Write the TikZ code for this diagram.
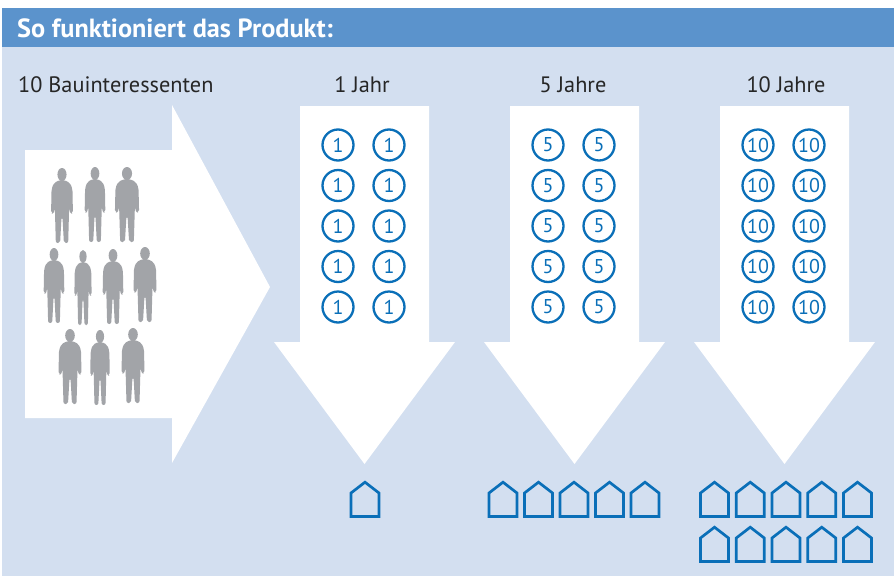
\documentclass[tikz,border=0pt]{standalone}
\usepackage{fontspec}
\setmainfont{PT Sans}
\definecolor{hdrblue}{HTML}{5B93CC}
\definecolor{bgblue}{HTML}{D3DFF0}
\definecolor{iconblue}{HTML}{0A6FB8}
\definecolor{persongray}{HTML}{A2A4A8}
\tikzset{
  numc/.style={circle, draw=iconblue, line width=2.3pt, minimum size=31pt, inner sep=0pt,
    text=iconblue, font=\fontsize{20}{20}\selectfont},
  lbl/.style={anchor=base, inner sep=0pt, text=black!85, font=\fontsize{22.3}{22}\selectfont},
  house/.pic={\draw[iconblue, line width=2.7pt, miter limit=10] (0,1.2) -- (-14,12) -- (-14,35.5) -- (14,35.5) -- (14,12) -- cycle;},
  person/.pic={
    \fill[persongray] (0,6.5) ellipse (4.8 and 6.5);
    \fill[persongray, rounded corners=2] (-2.5,12) -- (-8.5,15) -- (-11,21) -- (-11.5,45) -- (-9,46) -- (-7.5,40) -- (-6.5,75) -- (-2,75) -- (-0.5,49) -- (0.5,49) -- (2,75) -- (6.5,75) -- (7.5,40) -- (9,46) -- (11.5,45) -- (11,21) -- (8.5,15) -- (2.5,12) -- cycle;
  }
}
\begin{document}
\begin{tikzpicture}[x=1pt,y=-1pt]
\useasboundingbox (0,0) rectangle (894,576);
\fill[white] (0,0) rectangle (894,576);
\fill[bgblue] (2,47) rectangle (894,576);
\fill[hdrblue] (2,8) rectangle (894,47);
\node[anchor=base west, inner sep=0pt, text=white, font=\bfseries\fontsize{26.3}{26}\selectfont] (title) at (17,37) {So funktioniert das Produkt:};
% labels
\node[lbl, anchor=base west] (lbau) at (18,92) {10 Bauinteressenten};
\node[lbl] (l1) at (362,92) {1 Jahr};
\node[lbl] (l5) at (573,92) {5 Jahre};
\node[lbl] (l10) at (786,92) {10 Jahre};
% right arrow
\fill[white] (25,150) -- (172,150) -- (172,105) -- (270,287) -- (172,463) -- (172,418) -- (25,418) -- cycle;
% people
\pic[xscale=0.95] at (62,168) {person};
\pic[xscale=0.9] at (95,167) {person};
\pic[xscale=1.05] at (127,167) {person};
\pic[xscale=0.9] at (54,248) {person};
\pic[xscale=0.75] at (83,250) {person};
\pic[xscale=0.9] at (113,249) {person};
\pic[xscale=1.0] at (145,247) {person};
\pic[xscale=1.0] at (70,329) {person};
\pic[xscale=0.85] at (100,330) {person};
\pic[xscale=1.0] at (133,328) {person};
% down arrows and circles
\foreach \d/\n in {0/1,210/5,420/10}{
  \fill[white] (300+\d,106) -- (429+\d,106) -- (429+\d,342) -- (455+\d,342) -- (364.5+\d,464) -- (274+\d,342) -- (300+\d,342) -- cycle;
  \foreach \r in {0,...,4}{
    \node[numc] (c\n a\r) at (338+\d,145+40.5*\r) {\n};
    \node[numc] (c\n b\r) at (389+\d,145+40.5*\r) {\n};
  }
}
% houses
\pic at (365,481) {house};
\foreach \i in {0,...,4}{
  \pic at (503+35.5*\i,481) {house};
  \pic at (714.5+35.75*\i,481) {house};
  \pic at (714.5+35.75*\i,526) {house};
}
\end{tikzpicture}
\end{document}
